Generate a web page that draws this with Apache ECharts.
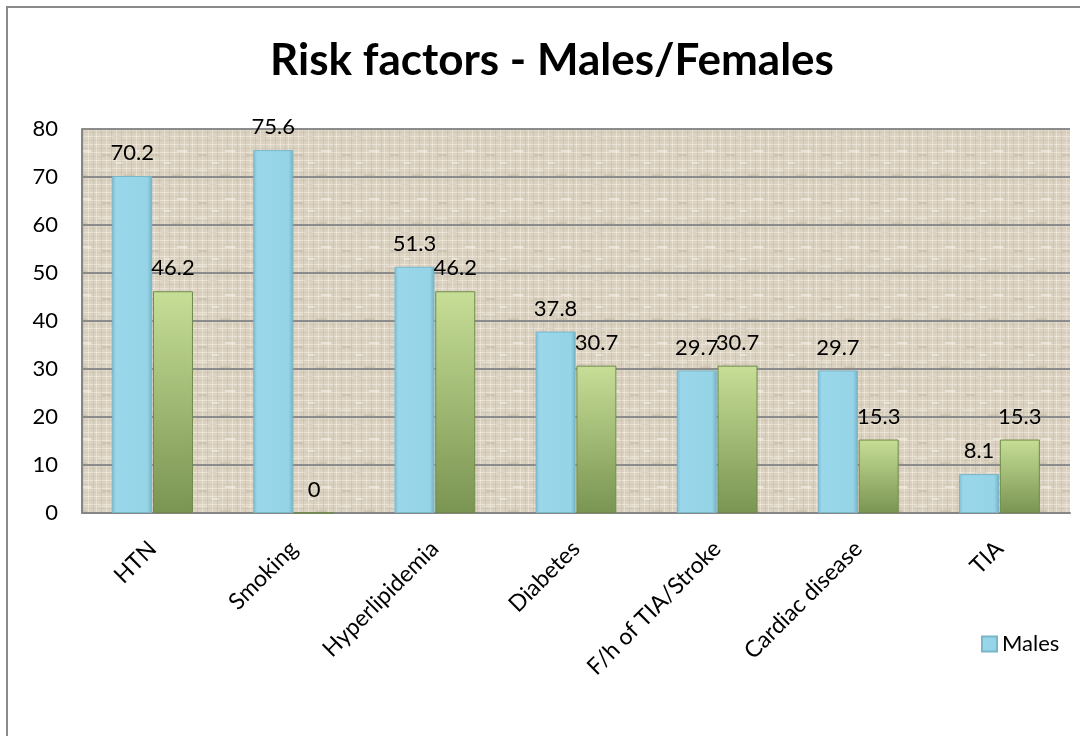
<!DOCTYPE html>
<html>
<head>
<meta charset="utf-8">
<script src="https://cdn.jsdelivr.net/npm/echarts@6/dist/echarts.min.js"></script>
<style>
  html, body { margin: 0; padding: 0; background: #fff; }
  #chart { width: 1080px; height: 736px; }
</style>
</head>
<body>
<div id="chart"></div>
<script>
const categories = ['HTN', 'Smoking', 'Hyperlipidemia', 'Diabetes', 'F/h of TIA/Stroke', 'Cardiac disease', 'TIA'];
const males = [70.2, 75.6, 51.3, 37.8, 29.7, 29.7, 8.1];
const females = [46.2, 0, 46.2, 30.7, 30.7, 15.3, 15.3];
const yTicks = [0, 10, 20, 30, 40, 50, 60, 70, 80];

// burlap-like texture for the plot background (decorative only)
function makeTexture() {
  const c = document.createElement('canvas');
  c.width = 48; c.height = 48;
  const g = c.getContext('2d');
  g.fillStyle = '#dbd2c1';
  g.fillRect(0, 0, 48, 48);
  for (let y = 0; y < 48; y += 4) {
    g.fillStyle = (y % 8 === 0) ? 'rgba(245,240,230,0.55)' : 'rgba(200,188,168,0.45)';
    g.fillRect(0, y, 48, 1);
  }
  for (let x = 0; x < 48; x += 5) {
    g.fillStyle = (x % 10 === 0) ? 'rgba(244,238,226,0.5)' : 'rgba(190,178,158,0.35)';
    g.fillRect(x, 0, 1, 48);
  }
  g.fillStyle = 'rgba(170,158,138,0.25)';
  g.fillRect(6, 10, 9, 2); g.fillRect(28, 30, 11, 2); g.fillRect(17, 40, 8, 1);
  g.fillStyle = 'rgba(250,246,238,0.5)';
  g.fillRect(33, 6, 10, 2); g.fillRect(3, 26, 12, 1); g.fillRect(20, 18, 6, 2);
  return c;
}

const chart = echarts.init(document.getElementById('chart'), null, { renderer: 'canvas' });
const FONT = 'Lato, "Open Sans", sans-serif';

chart.setOption({
  animation: false,
  backgroundColor: '#ffffff',
  textStyle: { fontFamily: FONT },
  title: {
    text: 'Risk factors - Males/Females',
    left: 547,
    textAlign: 'center',
    top: 34,
    textStyle: { fontFamily: FONT, fontWeight: 'bold', fontSize: 44, color: '#000' }
  },
  graphic: [{
    type: 'rect',
    silent: true,
    z: -10,
    shape: { x: 7, y: 7, width: 1200, height: 900 },
    style: { fill: 'none', stroke: '#8a8a8a', lineWidth: 2 }
  }],
  legend: {
    data: ['Males'],
    left: 976,
    top: 628,
    itemWidth: 15,
    itemHeight: 15,
    itemGap: 6,
    icon: 'rect',
    textStyle: { fontFamily: FONT, fontSize: 22, color: '#000' }
  },
  grid: {
    left: 82, right: 10, top: 129, bottom: 223,
    show: true,
    borderWidth: 0,
    backgroundColor: { image: makeTexture(), repeat: 'repeat' }
  },
  xAxis: {
    type: 'category',
    data: categories,
    axisLine: { show: true, lineStyle: { color: '#868686', width: 2 } },
    axisTick: { show: false },
    axisLabel: {
      rotate: 45,
      margin: 32,
      interval: 0,
      fontFamily: FONT,
      fontSize: 23,
      color: '#000'
    }
  },
  yAxis: {
    type: 'value',
    min: 0,
    max: 80,
    interval: 10,
    axisLine: { show: true, lineStyle: { color: '#868686', width: 2 } },
    axisTick: { show: false },
    axisLabel: {
      margin: 24,
      fontFamily: FONT,
      fontSize: 22,
      color: '#000',
      formatter: v => (yTicks.indexOf(v) >= 0 ? String(v) : '')
    },
    splitLine: { show: true, lineStyle: { color: '#8c8c8c', width: 2 } }
  },
  series: [
    {
      name: 'Males',
      type: 'bar',
      data: males,
      barWidth: 40,
      barGap: '2%',
      itemStyle: {
        color: new echarts.graphic.LinearGradient(0, 0, 1, 0, [
          { offset: 0, color: '#7fbdd1' },
          { offset: 0.1, color: '#9ad7eb' },
          { offset: 0.88, color: '#95d3e7' },
          { offset: 1, color: '#74b1c5' }
        ]),
        borderColor: '#79b6ca',
        borderWidth: 1
      },
      label: {
        show: true,
        position: 'top',
        distance: 12,
        fontFamily: FONT,
        fontSize: 22,
        color: '#000'
      }
    },
    {
      name: 'Females',
      type: 'bar',
      data: females,
      barWidth: 40,
      itemStyle: {
        color: new echarts.graphic.LinearGradient(0, 0, 0, 1, [
          { offset: 0, color: '#c6de96' },
          { offset: 1, color: '#7a9452' }
        ]),
        borderColor: '#6f8a48',
        borderWidth: 1
      },
      label: {
        show: true,
        position: 'top',
        distance: 12,
        fontFamily: FONT,
        fontSize: 22,
        color: '#000'
      }
    }
  ]
});
</script>
</body>
</html>
